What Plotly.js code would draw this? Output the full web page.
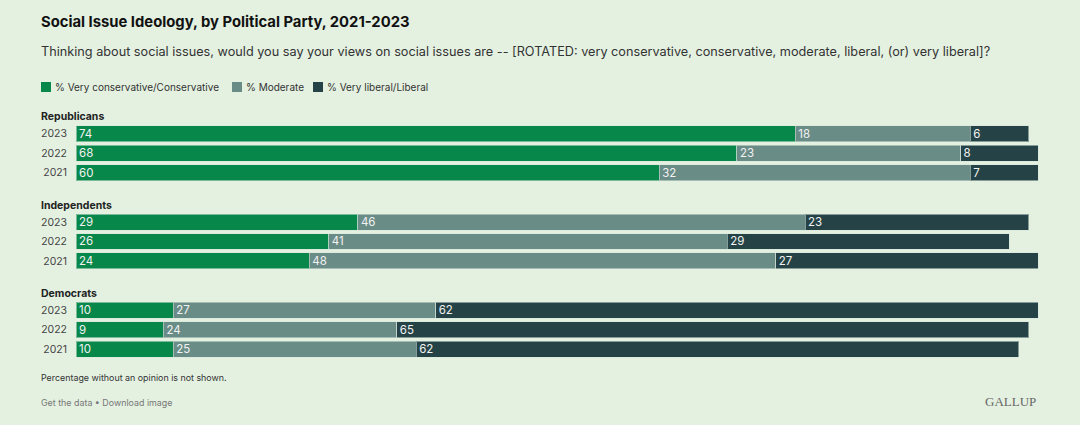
<!DOCTYPE html>
<html>
<head>
<meta charset="utf-8">
<script src="https://cdn.plot.ly/plotly-3.0.1.min.js"></script>
<style>
html,body{margin:0;padding:0;background:#e4f1e1;}
#chart{width:1080px;height:425px;}
</style>
</head>
<body>
<div id="chart"></div>
<script>
// ---- data ----
const years = ['2021', '2022', '2023'];
const parties = ['Republicans', 'Independents', 'Democrats'];
const seriesNames = ['% Very conservative/Conservative', '% Moderate', '% Very liberal/Liberal'];
const seriesColors = ['#07874a', '#6a8c87', '#254346'];

const repCons = [60, 68, 74];
const repMod  = [32, 23, 18];
const repLib  = [7, 8, 6];

const indCons = [24, 26, 29];
const indMod  = [48, 41, 46];
const indLib  = [27, 29, 23];

const demCons = [10, 9, 10];
const demMod  = [25, 24, 27];
const demLib  = [62, 65, 62];

const partyData = [
  [repCons, repMod, repLib],
  [indCons, indMod, indLib],
  [demCons, demMod, demLib]
];

// ---- layout helpers ----
const W = 1080, H = 425;
const px = v => v / W;
const py = v => 1 - v / H;
const groupTops = [124, 212.3, 300.5];
const rowH = 19.45;
const groupHeaderY = [117, 205.3, 293.5];
const LX = 39; // left text anchor (annotation box offset compensated)

const traces = [];
partyData.forEach((series, g) => {
  const yName = g === 0 ? 'y' : 'y' + (g + 1);
  series.forEach((vals, s) => {
    traces.push({
      type: 'bar',
      orientation: 'h',
      x: vals,
      y: years,
      yaxis: yName,
      xaxis: 'x',
      name: seriesNames[s],
      showlegend: false,
      marker: {color: seriesColors[s], line: {color: 'rgba(215,230,220,0.55)', width: 1}},
      text: vals.map(String),
      textposition: 'inside',
      insidetextanchor: 'start',
      textangle: 0,
      constraintext: 'none',
      textfont: {family: 'Inter, sans-serif', size: 11.5, color: '#f2f2f2'},
      hoverinfo: 'none'
    });
  });
});

const layout = {
  width: W, height: H,
  autosize: false,
  paper_bgcolor: '#e4f1e1',
  plot_bgcolor: 'rgba(0,0,0,0)',
  margin: {l: 0, r: 0, t: 0, b: 0},
  barmode: 'stack',
  bargap: 0.18,
  showlegend: false,
  font: {family: 'Inter, sans-serif', color: '#333'},
  title: {
    text: 'Social Issue Ideology, by Political Party, 2021-2023',
    xref: 'container', yref: 'container',
    x: px(41), xanchor: 'left',
    y: py(22), yanchor: 'middle',
    font: {family: 'Inter, sans-serif', size: 14.8, weight: 700, color: '#111'}
  },
  xaxis: {
    domain: [px(76), px(1048)],
    range: [0, 100],
    showgrid: false, zeroline: false, showticklabels: false, showline: false, fixedrange: true
  },
  annotations: [],
  shapes: []
};

for (let g = 0; g < 3; g++) {
  const key = g === 0 ? 'yaxis' : 'yaxis' + (g + 1);
  const top = groupTops[g];
  const bottom = top + rowH * 3;
  layout[key] = {
    domain: [py(bottom), py(top)],
    type: 'category',
    categoryorder: 'array',
    categoryarray: years,
    range: [-0.5, 2.5],
    anchor: 'x',
    showgrid: false, zeroline: false, showline: false,
    ticks: '',
    ticklabelstandoff: 8,
    tickfont: {family: 'Inter, sans-serif', size: 10.5, color: '#444'},
    fixedrange: true
  };
  layout.annotations.push({
    text: '<b>' + parties[g] + '</b>',
    xref: 'paper', yref: 'paper',
    x: px(LX), y: py(groupHeaderY[g]),
    xanchor: 'left', yanchor: 'middle',
    showarrow: false,
    font: {family: 'Inter, sans-serif', size: 10.5, color: '#222'}
  });
}

// subtitle
layout.annotations.push({
  text: 'Thinking about social issues, would you say your views on social issues are -- [ROTATED: very conservative, conservative, moderate, liberal, (or) very liberal]?',
  xref: 'paper', yref: 'paper', x: px(LX), y: py(52),
  xanchor: 'left', yanchor: 'middle', showarrow: false,
  font: {family: 'Inter, sans-serif', size: 12.7, color: '#333'}
});

// legend (custom)
const legendX = [41, 232, 313];
seriesNames.forEach((n, i) => {
  layout.shapes.push({
    type: 'rect', xref: 'paper', yref: 'paper',
    x0: px(legendX[i]), x1: px(legendX[i] + 10),
    y0: py(92), y1: py(82),
    fillcolor: seriesColors[i], line: {width: 0}
  });
  layout.annotations.push({
    text: n, xref: 'paper', yref: 'paper',
    x: px(legendX[i] + 12), y: py(87),
    xanchor: 'left', yanchor: 'middle', showarrow: false,
    font: {family: 'Inter, sans-serif', size: 10, color: '#333'}
  });
});

// footer
layout.annotations.push({
  text: 'Percentage without an opinion is not shown.',
  xref: 'paper', yref: 'paper', x: px(LX), y: py(377),
  xanchor: 'left', yanchor: 'middle', showarrow: false,
  font: {family: 'Inter, sans-serif', size: 8.9, color: '#333'}
});
layout.annotations.push({
  text: 'Get the data • Download image',
  xref: 'paper', yref: 'paper', x: px(LX), y: py(402),
  xanchor: 'left', yanchor: 'middle', showarrow: false,
  font: {family: 'Inter, sans-serif', size: 8.9, color: '#777'}
});
layout.annotations.push({
  text: 'GALLUP',
  xref: 'paper', yref: 'paper', x: px(1038), y: py(401),
  xanchor: 'right', yanchor: 'middle', showarrow: false,
  font: {family: '"Liberation Serif", "DejaVu Serif", serif', size: 13, color: '#666'}
});

Plotly.newPlot('chart', traces, layout, {displayModeBar: false, staticPlot: true});
</script>
</body>
</html>
